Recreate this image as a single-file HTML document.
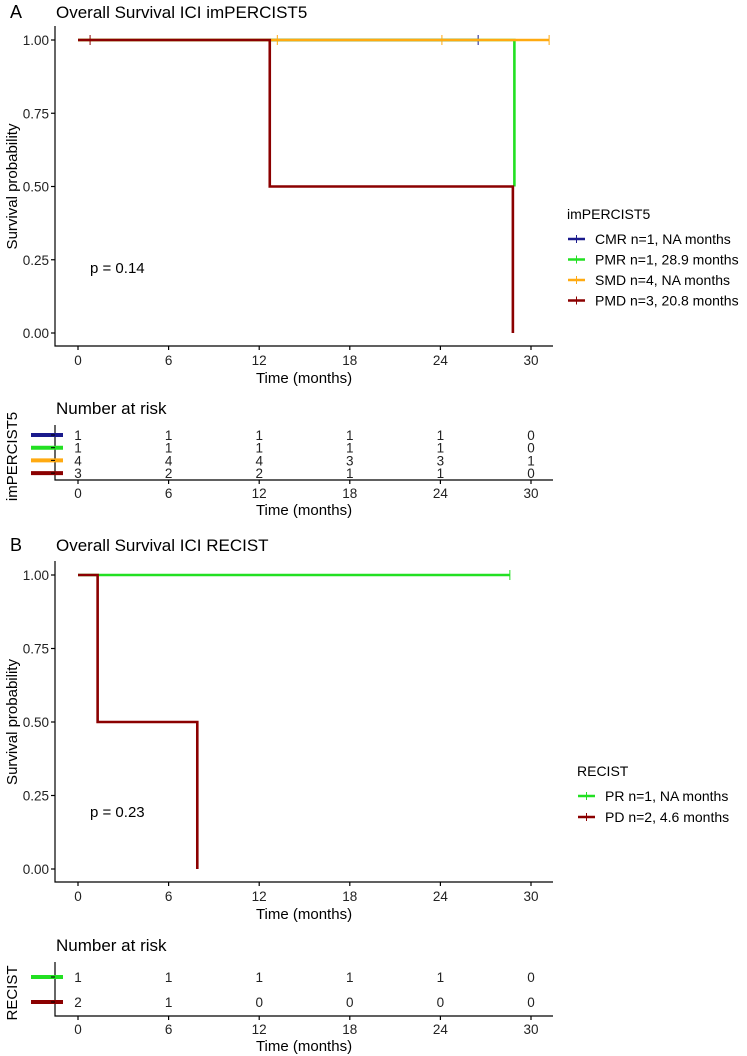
<!DOCTYPE html>
<html><head><meta charset="utf-8"><style>
html,body{margin:0;padding:0;background:#fff;}
svg{display:block;font-family:"Liberation Sans",sans-serif;}
</style></head><body>
<svg id="chart" width="747" height="1056" viewBox="0 0 747 1056" xmlns="http://www.w3.org/2000/svg"></svg>
<script>
// ---- data ----
const xTicks = [0, 6, 12, 18, 24, 30];
const yTicks = [0, 0.25, 0.5, 0.75, 1];
const yTickLabels = ["0.00", "0.25", "0.50", "0.75", "1.00"];
// Panel A
const aGroups = ["CMR", "PMR", "SMD", "PMD"];
const aLegend = ["CMR n=1, NA months", "PMR n=1, 28.9 months", "SMD n=4, NA months", "PMD n=3, 20.8 months"];
const aColors = ["#1a1a8c", "#22e022", "#ffaa11", "#8b0000"];
const aTimes = [[0, 26.5], [0, 28.9, 28.9], [0, 31.2], [0, 12.7, 12.7, 28.8, 28.8]];
const aSurv = [[1, 1], [1, 1, 0.5], [1, 1], [1, 1, 0.5, 0.5, 0]];
const aCensorT = [[26.5], [], [13.2, 24.1, 31.2], [0.8]];
const aCensorS = [[1], [], [1, 1, 1], [1]];
const aRisk = [[1,1,1,1,1,0],[1,1,1,1,1,0],[4,4,4,3,3,1],[3,2,2,1,1,0]];
// Panel B
const bLegend = ["PR n=1, NA months", "PD n=2, 4.6 months"];
const bColors = ["#22e022", "#8b0000"];
const bTimes = [[0, 28.6], [0, 1.3, 1.3, 7.9, 7.9]];
const bSurv = [[1, 1], [1, 1, 0.5, 0.5, 0]];
const bCensorT = [[28.6], []];
const bCensorS = [[1], []];
const bRisk = [[1,1,1,1,1,0],[2,1,0,0,0,0]];

const NS = "http://www.w3.org/2000/svg";
const svg = document.getElementById("chart");
function el(tag, attrs, parent, txt){
  const e = document.createElementNS(NS, tag);
  for (const k in attrs) e.setAttribute(k, attrs[k]);
  if (txt !== undefined) e.textContent = txt;
  (parent || svg).appendChild(e);
  return e;
}
const x = t => 78 + t * (453 / 30);
const X0 = 55, X1 = 553;

function panel(cfg){
  const g = el("g", {});
  
  
  const y = s => cfg.y0 + (cfg.y1 - cfg.y0) * s;
  const t1 = el("text", {x: 10, y: cfg.titleY, "font-size": 18}, g, cfg.letter);
  
  
  const t2 = el("text", {x: 56, y: cfg.titleY, "font-size": 17}, g, cfg.title);
  
  
  // axes
  const ax = el("path", {d: `M${X0} ${y(1)-14}V${cfg.axisY}H${X1}`, fill: "none", stroke: "#000", "stroke-width": 1.2}, g);
  
  
  yTicks.forEach((v, i) => {
    el("line", {x1: X0-4, x2: X0, y1: y(v), y2: y(v), stroke: "#000", "stroke-width": 1.2}, g);
    const tl = el("text", {x: X0-6, y: y(v)+5, "font-size": 13.5, "text-anchor": "end", fill: "#222"}, g, yTickLabels[i]);
    
    
  });
  xTicks.forEach(v => {
    el("line", {x1: x(v), x2: x(v), y1: cfg.axisY, y2: cfg.axisY+4, stroke: "#000", "stroke-width": 1.2}, g);
    const tl = el("text", {x: x(v), y: cfg.axisY+19, "font-size": 13.5, "text-anchor": "middle", fill: "#222"}, g, String(v));
    
    
  });
  const xt = el("text", {x: 304, y: cfg.axisY+37, "font-size": 15, "text-anchor": "middle"}, g, "Time (months)");
  
  
  const cy = (y(0)+y(1))/2;
  const yt = el("text", {x: 0, y: 0, "font-size": 15, "text-anchor": "middle", transform: `translate(17 ${cy}) rotate(-90)`}, g, "Survival probability");
  
  
  const pv = el("text", {x: 90, y: cfg.pY, "font-size": 15}, g, cfg.p);
  
  
  // curves
  cfg.times.forEach((ts, k) => {
    let d = "";
    ts.forEach((t, i) => { d += (i ? "L" : "M") + x(t) + " " + y(cfg.surv[k][i]); });
    const p = el("path", {d, fill: "none", stroke: cfg.colors[k], "stroke-width": 2.6}, g);
    
    
    cfg.censT[k].forEach((t, i) => {
      const c = el("line", {x1: x(t), x2: x(t), y1: y(cfg.censS[k][i])-5, y2: y(cfg.censS[k][i])+5, stroke: cfg.colors[k], "stroke-width": 1}, g);
      
      
    });
  });
  // legend
  const lt = el("text", {x: cfg.legX, y: cfg.legY, "font-size": 14}, g, cfg.legTitle);
  
  
  cfg.legend.forEach((s, i) => {
    const yy = cfg.legY + 25 + i * cfg.legStep;
    const lg = el("g", {}, g);
    
    
    el("line", {x1: cfg.legX+1, x2: cfg.legX+18, y1: yy-5, y2: yy-5, stroke: cfg.colors[i], "stroke-width": 2.5}, lg);
    el("line", {x1: cfg.legX+9.5, x2: cfg.legX+9.5, y1: yy-9, y2: yy-1, stroke: cfg.colors[i], "stroke-width": 1}, lg);
    el("text", {x: cfg.legX+28, y: yy, "font-size": 14}, lg, s);
  });
  // risk table
  const r = cfg.risk;
  const nt = el("text", {x: 56, y: r.titleY, "font-size": 17}, g, "Number at risk");
  
  
  el("path", {d: `M${X0} ${r.top}V${r.axisY}H${X1}`, fill: "none", stroke: "#000", "stroke-width": 1.2}, g);
  xTicks.forEach(v => {
    el("line", {x1: x(v), x2: x(v), y1: r.axisY, y2: r.axisY+4, stroke: "#000", "stroke-width": 1.2}, g);
    const tl = el("text", {x: x(v), y: r.axisY+18, "font-size": 13.5, "text-anchor": "middle", fill: "#222"}, g, String(v));
    
    
  });
  const rx = el("text", {x: 304, y: r.axisY+35, "font-size": 15, "text-anchor": "middle"}, g, "Time (months)");
  
  
  const ry = el("text", {x: 0, y: 0, "font-size": 15, "text-anchor": "middle", transform: `translate(17 ${(r.top + r.axisY)/2 + 4}) rotate(-90)`}, g, cfg.legTitle);
  
  
  r.values.forEach((row, i) => {
    const yy = r.row0 + i * r.step;
    const bar = el("line", {x1: 31, x2: 63, y1: yy, y2: yy, stroke: cfg.colors[i], "stroke-width": 4}, g);
    
    
    el("line", {x1: X0, x2: X0-4, y1: yy, y2: yy, stroke: "#000", "stroke-width": 1}, g);
    row.forEach((v, j) => {
      const tv = el("text", {x: x(xTicks[j]), y: yy+5, "font-size": 13.5, "text-anchor": "middle", fill: "#222"}, g, String(v));
      
      
    });
  });
}

panel({name: "panel-a", letter: "A", title: "Overall Survival ICI imPERCIST5", titleY: 18,
  y0: 333, y1: 40, axisY: 346, pY: 273, p: "p = 0.14",
  times: aTimes, surv: aSurv, censT: aCensorT, censS: aCensorS, colors: aColors,
  legTitle: "imPERCIST5", legend: aLegend, legX: 567, legY: 219, legStep: 20.5,
  risk: {titleY: 414, top: 425, axisY: 480, row0: 435, step: 12.7, values: aRisk}});
panel({name: "panel-b", letter: "B", title: "Overall Survival ICI RECIST", titleY: 551,
  y0: 869, y1: 575, axisY: 882, pY: 817, p: "p = 0.23",
  times: bTimes, surv: bSurv, censT: bCensorT, censS: bCensorS, colors: bColors,
  legTitle: "RECIST", legend: bLegend, legX: 577, legY: 776, legStep: 21,
  risk: {titleY: 951, top: 962, axisY: 1016, row0: 977, step: 25, values: bRisk}});
</script>
</body></html>
